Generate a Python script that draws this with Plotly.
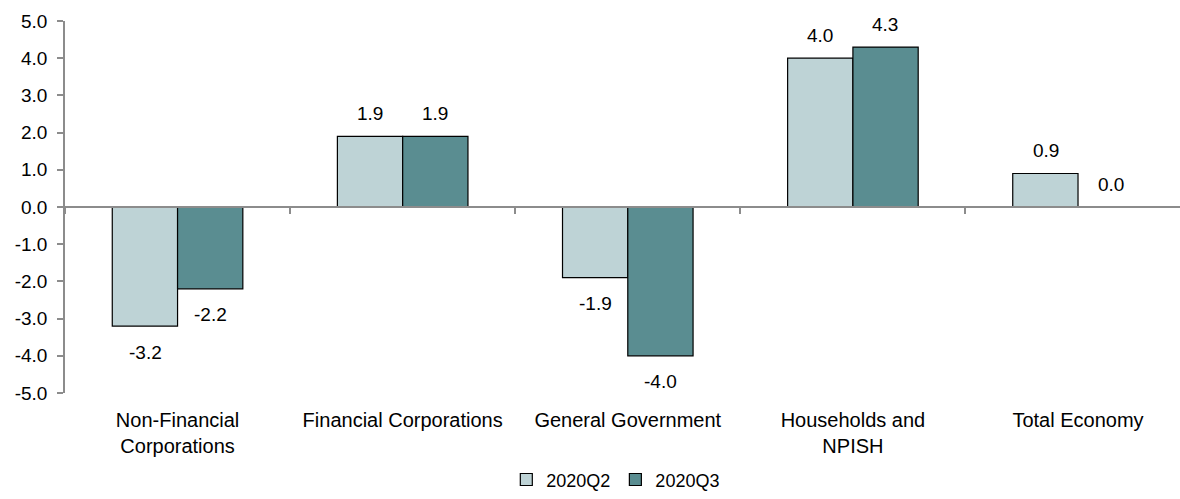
import plotly.graph_objects as go

categories = ["Non-Financial<br>Corporations", "Financial Corporations", "General Government",
              "Households and<br>NPISH", "Total Economy"]
series_names = ["2020Q2", "2020Q3"]
q2_values = [-3.2, 1.9, -1.9, 4.0, 0.9]
q3_values = [-2.2, 1.9, -4.0, 4.3, 0.0]
y_tick_values = [-5, -4, -3, -2, -1, 0, 1, 2, 3, 4, 5]
y_tick_labels = [f"{v:.1f}" for v in y_tick_values]

colors = ["#BED3D6", "#5A8D91"]
FONT = "Arial, Liberation Sans, sans-serif"
FS = 19

fig = go.Figure()
for name, vals, col in zip(series_names, [q2_values, q3_values], colors):
    fig.add_trace(go.Bar(
        x=categories, y=vals, name=name,
        marker=dict(color=col, line=dict(color="black", width=1.2)),
    ))

# dummy trace to drive the zero-level category axis (line + boundary ticks)
fig.add_trace(go.Scatter(
    x=categories, y=[0] * len(categories), xaxis="x2", mode="markers",
    marker=dict(opacity=0), showlegend=False, hoverinfo="skip",
))

# data labels
for vals, shift in [(q2_values, -32.5), (q3_values, 32.5)]:
    for c, v in zip(categories, vals):
        fig.add_annotation(
            x=c, y=v, text=f"{v:.1f}", showarrow=False,
            xshift=shift, yshift=23 if v >= 0 else -26,
            font=dict(family=FONT, size=FS, color="black"),
        )

xrange = [-0.5, 4.453]
fig.update_layout(
    width=1180, height=499,
    margin=dict(l=65, r=0, t=21, b=106),
    paper_bgcolor="white", plot_bgcolor="white",
    font=dict(family=FONT, size=FS, color="black"),
    barmode="group", bargap=0.42, bargroupgap=0,
    xaxis=dict(
        type="category", range=xrange, showline=False, ticks="",
        showgrid=False, zeroline=False, ticklabelstandoff=13,
        tickfont=dict(family=FONT, size=20, color="black"),
    ),
    xaxis2=dict(
        type="category", overlaying="x", anchor="free", position=0.5, side="bottom",
        range=xrange, showline=True, linecolor="#8C8C8C", linewidth=1.5,
        ticks="outside", tickson="boundaries", ticklen=6, tickcolor="#8C8C8C",
        tickwidth=1.5, showticklabels=False, showgrid=False, zeroline=False,
    ),
    yaxis=dict(
        range=[-5, 5], tickvals=y_tick_values, ticktext=y_tick_labels,
        showline=True, linecolor="#8C8C8C", linewidth=1.5,
        ticks="outside", ticklen=6, tickcolor="#8C8C8C", tickwidth=1.5,
        showgrid=False, zeroline=False, ticklabelstandoff=6,
        tickfont=dict(family=FONT, size=FS, color="black"),
    ),
    legend=dict(
        orientation="h", x=0.494, xanchor="center", y=-0.283, yanchor="bottom",
        font=dict(family=FONT, size=18, color="black"),
        itemwidth=30, tracegroupgap=0,
    ),
    showlegend=True,
)

fig.write_html("out.html")
